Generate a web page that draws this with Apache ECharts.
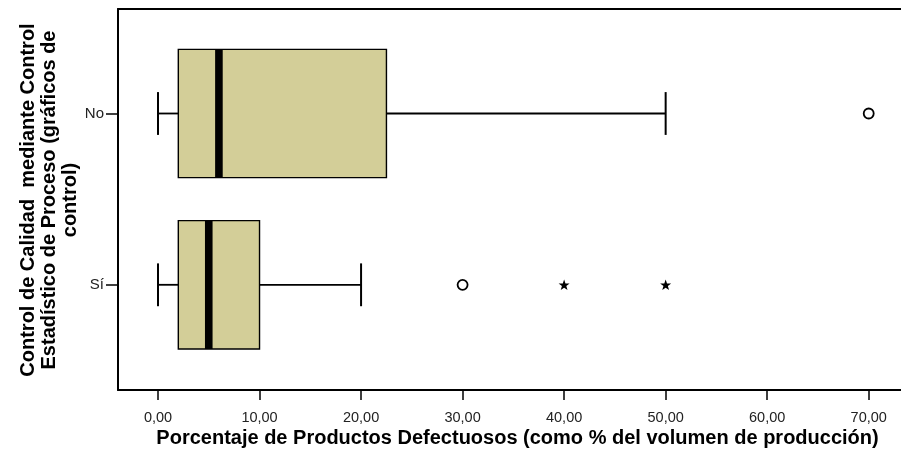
<!DOCTYPE html>
<html>
<head>
<meta charset="utf-8">
<script src="https://cdn.jsdelivr.net/npm/echarts@6/dist/echarts.min.js"></script>
<style>
html,body{margin:0;padding:0;background:#fff;}
#chart{width:901px;height:451px;}
</style>
</head>
<body>
<div id="chart"></div>
<script>
// ---- data ----
const categories = ['Sí', 'No'];
const whiskerLow = [0, 0];
const q1 = [2, 2];
const median = [5, 6];
const q3 = [10, 22.5];
const whiskerHigh = [20, 50];
const circleOutlierValues = [30, 70];
const circleOutlierCats = ['Sí', 'No'];
const starOutlierValues = [40, 50];
const starOutlierCats = ['Sí', 'Sí'];
const xTickValues = [0, 10, 20, 30, 40, 50, 60, 70];
const xTitle = 'Porcentaje de Productos Defectuosos (como % del volumen de producción)';
const yTitle = 'Control de Calidad  mediante Control\nEstadístico de Proceso (gráficos de\ncontrol)';

// ---- layout ----
const FONT = '"Liberation Sans", Arial, Helvetica, sans-serif';
const GRID_LEFT = 118;
const GRID_RIGHT = 0;
const X_MIN = -3.94;
const X_MAX = 73.18;
const BOX_FILL = '#D3CE98';

const boxData = categories.map((c, i) => [i, whiskerLow[i], q1[i], median[i], q3[i], whiskerHigh[i]]);
const circleData = circleOutlierValues.map((v, i) => [v, circleOutlierCats[i]]);
const starData = starOutlierValues.map((v, i) => [v, starOutlierCats[i]]);

const STAR = 'path://M0,-10L2.351,-3.236L9.511,-3.09L3.804,1.236L5.878,8.09L0,4L-5.878,8.09L-3.804,1.236L-9.511,-3.09L-2.351,-3.236Z';

function renderBox(params, api) {
  const ci = api.value(0);
  const band = api.size([0, 1])[1];
  const boxH = band * 0.749;
  const capH = band * 0.25;
  const pLow = api.coord([api.value(1), ci]);
  const pQ1 = api.coord([api.value(2), ci]);
  const pMed = api.coord([api.value(3), ci]);
  const pQ3 = api.coord([api.value(4), ci]);
  const pHigh = api.coord([api.value(5), ci]);
  const cy = pMed[1];
  const lineStyle = { stroke: '#000', lineWidth: 1.8 };
  const capStyle = { stroke: '#000', lineWidth: 2 };
  const medW = 7.6;
  return {
    type: 'group',
    children: [
      { type: 'line', shape: { x1: pLow[0], y1: cy, x2: pQ1[0], y2: cy }, style: lineStyle },
      { type: 'line', shape: { x1: pQ3[0], y1: cy, x2: pHigh[0], y2: cy }, style: lineStyle },
      { type: 'line', shape: { x1: pLow[0], y1: cy - capH / 2, x2: pLow[0], y2: cy + capH / 2 }, style: capStyle },
      { type: 'line', shape: { x1: pHigh[0], y1: cy - capH / 2, x2: pHigh[0], y2: cy + capH / 2 }, style: capStyle },
      { type: 'rect', shape: { x: pQ1[0], y: cy - boxH / 2, width: pQ3[0] - pQ1[0], height: boxH }, style: { fill: BOX_FILL, stroke: '#000', lineWidth: 1.4 } },
      { type: 'rect', shape: { x: pMed[0] - medW / 2, y: cy - boxH / 2, width: medW, height: boxH }, style: { fill: '#000' } }
    ]
  };
}

const frameLine = { show: true, onZero: false, lineStyle: { color: '#000', width: 2 } };

const chart = echarts.init(document.getElementById('chart'), null, { renderer: 'canvas' });
chart.setOption({
  backgroundColor: '#fff',
  animation: false,
  grid: [
    { left: GRID_LEFT, right: GRID_RIGHT, top: 9, bottom: 61, show: false, containLabel: false },
    { left: GRID_LEFT, right: GRID_RIGHT, top: 27.85, height: 342.6, show: false, containLabel: false }
  ],
  xAxis: [
    {
      type: 'value', gridIndex: 0, min: X_MIN, max: X_MAX, position: 'bottom',
      axisLine: frameLine,
      splitLine: { show: false },
      axisTick: { show: true, length: 10, customValues: xTickValues, lineStyle: { color: '#000', width: 1.5 } },
      axisLabel: {
        show: true, customValues: xTickValues, margin: 20,
        fontFamily: FONT, fontSize: 14.5, color: '#222',
        formatter: v => v.toFixed(2).replace('.', ',')
      }
    },
    {
      type: 'value', gridIndex: 0, min: X_MIN, max: X_MAX, position: 'top',
      axisLine: frameLine,
      splitLine: { show: false },
      axisTick: { show: false },
      axisLabel: { show: false }
    },
    {
      type: 'value', gridIndex: 1, min: X_MIN, max: X_MAX,
      show: false, splitLine: { show: false }
    }
  ],
  yAxis: [
    {
      type: 'value', gridIndex: 0, position: 'left',
      axisLine: frameLine,
      splitLine: { show: false },
      axisTick: { show: false },
      axisLabel: { show: false }
    },
    {
      type: 'category', gridIndex: 1, data: categories, position: 'left',
      axisLine: { show: false, onZero: false },
      splitLine: { show: false },
      axisTick: { show: true, alignWithLabel: true, length: 12, lineStyle: { color: '#000', width: 1.5 } },
      axisLabel: { margin: 14, fontFamily: FONT, fontSize: 15, color: '#222' }
    }
  ],
  series: [
    {
      type: 'custom', xAxisIndex: 2, yAxisIndex: 1,
      renderItem: renderBox,
      encode: { y: 0, x: [1, 2, 3, 4, 5] },
      data: boxData,
      z: 2
    },
    {
      type: 'scatter', xAxisIndex: 2, yAxisIndex: 1,
      symbol: 'circle', symbolSize: 10,
      itemStyle: { color: '#fff', borderColor: '#000', borderWidth: 1.8, opacity: 1 },
      data: circleData, z: 3
    },
    {
      type: 'scatter', xAxisIndex: 2, yAxisIndex: 1,
      symbol: STAR, symbolSize: [11, 10.5],
      itemStyle: { color: '#000', opacity: 1 },
      data: starData, z: 3
    }
  ],
  graphic: [
    {
      type: 'text', x: 517.5, y: 438,
      style: { text: xTitle, font: 'bold 20px ' + FONT, fill: '#000', align: 'center', verticalAlign: 'middle' }
    },
    {
      type: 'text', x: 49, y: 200, rotation: Math.PI / 2,
      style: { text: yTitle, font: 'bold 20px ' + FONT, fill: '#000', align: 'center', verticalAlign: 'middle', lineHeight: 21 }
    }
  ]
});
</script>
</body>
</html>
